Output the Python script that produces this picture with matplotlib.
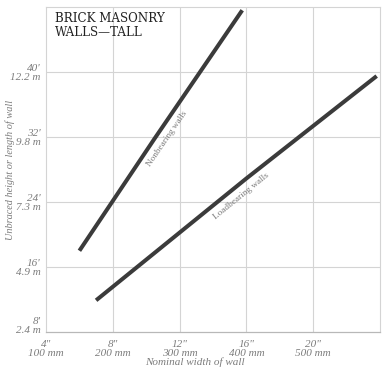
import numpy as np
import matplotlib
matplotlib.use("Agg")
import matplotlib.pyplot as plt
from matplotlib.transforms import ScaledTranslation

# nominal wall width (in) vs unbraced height/length (ft)
nonbearing_x = [6.0, 10.5, 15.75]
nonbearing_y = [18.0, 31.8, 47.6]
loadbearing_x = [7.0, 16.0, 23.8]
loadbearing_y = [11.9, 26.9, 39.5]

x_ticks = [4, 8, 12, 16, 20]
x_labels = ['4"\n100 mm', '8"\n200 mm', '12"\n300 mm', '16"\n400 mm', '20"\n500 mm']
y_ticks = [8, 16, 24, 32, 40]
y_labels = ["8'\n2.4 m", "16'\n4.9 m", "24'\n7.3 m", "32'\n9.8 m", "40'\n12.2 m"]

line_color = "#3b3b3b"
grid_color = "#d4d4d4"
label_color = "#7c7c7c"
tick_font = dict(family="Liberation Serif", style="italic", size=8, color=label_color)

fig = plt.figure(figsize=(3.87, 3.76), dpi=100)
ax = fig.add_axes([46 / 387, 44 / 376, 334 / 387, 325 / 376])

ax.set_xlim(4, 24)
ax.set_ylim(8, 48)

# grid
for x in [8, 12, 16, 20]:
    ax.axvline(x, color=grid_color, lw=0.8, zorder=1)
for y in [16, 24, 32, 40]:
    ax.axhline(y, color=grid_color, lw=0.8, zorder=1)
for side in ["top", "right", "left"]:
    ax.spines[side].set_color(grid_color)
    ax.spines[side].set_linewidth(0.8)
ax.spines["bottom"].set_color("#b8b8b8")
ax.spines["bottom"].set_linewidth(0.9)

ax.plot(nonbearing_x, nonbearing_y, color=line_color, lw=2.9, solid_capstyle="butt", zorder=3)
ax.plot(loadbearing_x, loadbearing_y, color=line_color, lw=2.9, solid_capstyle="butt", zorder=3)

ax.set_xticks(x_ticks)
ax.set_xticklabels(x_labels, linespacing=0.95, **tick_font)
ax.set_yticks(y_ticks)
ax.set_yticklabels(y_labels, linespacing=0.95, ha="right", **tick_font)
ax.tick_params(axis="x", length=0, pad=6)
ax.tick_params(axis="y", length=0, pad=4)

# bottom y label sits a little above the axis line
lab = ax.get_yticklabels()[0]
lab.set_transform(lab.get_transform() + ScaledTranslation(0, 5 / 72, fig.dpi_scale_trans))

# line labels
ax.text(11.25, 31.8, "Nonbearing walls", rotation=55.7, ha="center", va="center",
        family="Liberation Serif", size=6.6, color=label_color, rotation_mode="anchor")
ax.text(15.7, 24.7, "Loadbearing walls", rotation=39, ha="center", va="center",
        family="Liberation Serif", size=6.7, color=label_color, rotation_mode="anchor")

# title
ax.text(0.026, 0.985, "BRICK MASONRY\nWALLS\u2014TALL", transform=ax.transAxes,
        ha="left", va="top", family="DejaVu Serif", size=8.6, color="#222222",
        linespacing=1.15)

fig.text(10 / 387, 1 - 170 / 376, "Unbraced height or length of wall", rotation=90,
         ha="center", va="center", family="Liberation Serif", style="italic",
         size=7.4, color=label_color)
fig.text(195 / 387, 1 - 362 / 376, "Nominal width of wall", ha="center", va="center",
         family="Liberation Serif", style="italic", size=8, color=label_color)

fig.savefig("out.png", dpi=100, facecolor="white")
